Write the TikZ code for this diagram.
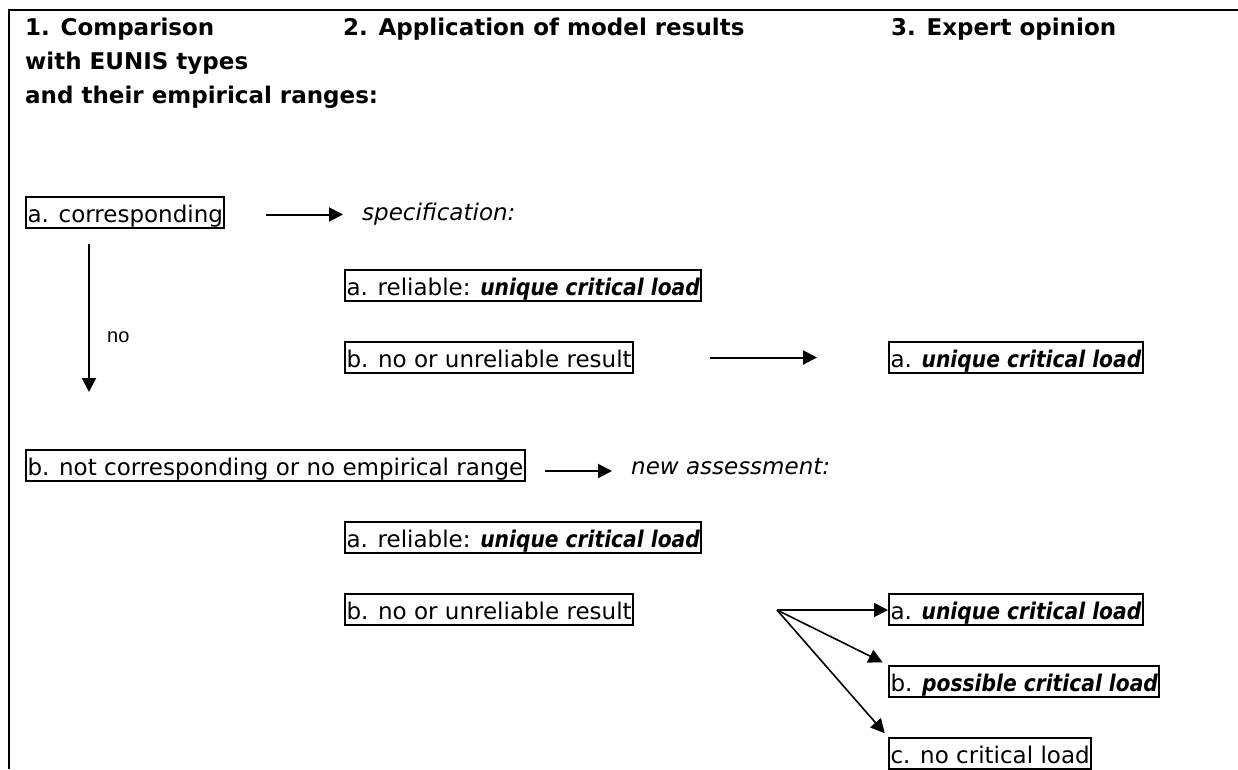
\documentclass[tikz,border=0pt]{standalone}
\usepackage{fontspec}
\setmainfont{DejaVu Sans}
\newfontfamily\condfont{DejaVu Sans}[FakeStretch=0.88]
\newfontfamily\nofont{Liberation Sans}
\usetikzlibrary{arrows.meta}
\tikzset{
  box/.style={draw, line width=2pt, anchor=north west, inner xsep=1.5pt, inner ysep=1.25pt,
    text height=24.5pt, text depth=4pt, font=\fontsize{23pt}{28pt}\selectfont},
  plain/.style={anchor=base west, inner sep=0pt, font=\fontsize{23pt}{28pt}\selectfont},
  head/.style={anchor=base west, inner sep=0pt, font=\fontsize{23pt}{28pt}\selectfont\bfseries},
  arr/.style={line width=2pt, -{Triangle[length=14pt,width=14pt]}},
}
\newcommand{\ucl}[1]{{\condfont\bfseries\itshape #1}}
\begin{document}
\begin{tikzpicture}[x=1pt,y=-1pt]
\useasboundingbox (0,0) rectangle (1238,769);
% frame
\draw[line width=2.2pt] (9,769) -- (9,10) -- (1238,10);
% headers
\node[head] (h1a) at (25,35) {1. Comparison};
\node[head] (h1b) at (25,69) {with EUNIS types};
\node[head] (h1c) at (25,103) {and their empirical ranges:};
\node[head] (h2) at (343,35) {2. Application of model results};
\node[head] (h3) at (891,35) {3. Expert opinion};
% column 1
\node[box] (acorr) at (25,196) {a. corresponding};
\node[box] (bnot) at (25,449) {b. not corresponding or no empirical range};
\node[anchor=base west, inner sep=0pt, font=\nofont\fontsize{20pt}{24pt}\selectfont] (no) at (107,342) {no};
% column 2
\node[plain] (spec) at (362,220) {\itshape specification:};
\node[box] (arel1) at (344,269) {a. reliable: \ucl{unique critical load}};
\node[box] (bnr1) at (344,341) {b. no or unreliable result};
\node[plain] (newa) at (631,474) {\itshape new assessment:};
\node[box] (arel2) at (344,521) {a. reliable: \ucl{unique critical load}};
\node[box] (bnr2) at (344,593) {b. no or unreliable result};
% column 3
\node[box] (ucl1) at (888,341) {a. \ucl{unique critical load}};
\node[box] (ucl2) at (888,593) {a. \ucl{unique critical load}};
\node[box] (pcl) at (888,665) {b. \ucl{possible critical load}};
\node[box] (ncl) at (888,737) {c. no critical load};
\coordinate (fan) at (777,610);
% connectors
\draw[arr, shorten <=41pt, shorten >=19pt] ([yshift=-2pt]acorr.east) -- ([yshift=-2pt]acorr.east -| spec.west);
\draw[arr, shorten <=15pt, shorten >=57pt] ([xshift=64pt]acorr.south west) -- ([xshift=64pt]acorr.south west |- bnot.north);
\draw[arr, shorten <=76pt, shorten >=71pt] (bnr1.east) -- (bnr1.east -| ucl1.west);
\draw[arr, shorten <=19pt, shorten >=19pt] ([yshift=-5.5pt]bnot.east) -- ([yshift=-5.5pt]bnot.east -| newa.west);
\draw[arr, line width=1.6pt] (fan) -- (fan -| ucl2.west);
\draw[arr, line width=1.6pt, shorten >=6pt] (fan) -- (pcl.north west);
\draw[arr, line width=1.6pt, shorten >=5pt] (fan) -- (ncl.north west);
\end{tikzpicture}
\end{document}
